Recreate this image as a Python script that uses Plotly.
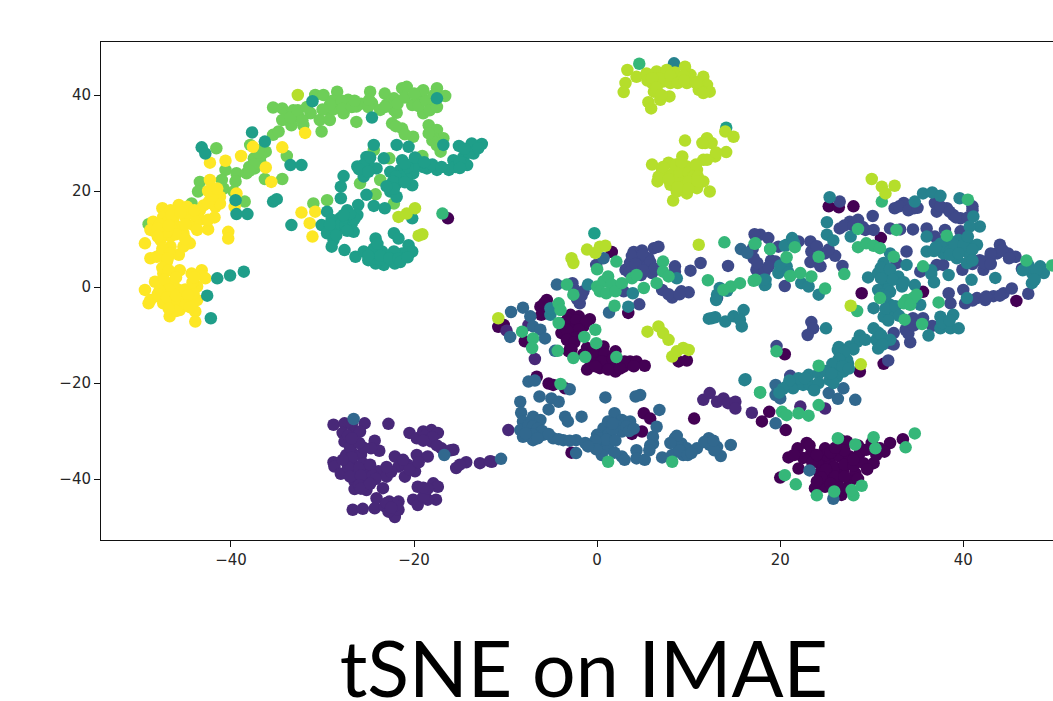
import plotly.graph_objects as go

class_0 = [(1.6,7.3),(-5.5,-2.7),(-6.2,-4.1),(-6.1,-5.8),(-10.2,-7.9),(-10.8,-8.3),(-7.9,-11.3),(3.4,-5.4),(-2.9,-5.8),(-2.0,-6.1),(-0.8,-6.7),(-3.7,-7.5),(-2.6,-8.2),(-1.5,-8.2),(-3.9,-9.6),(-2.8,-10.0),(-1.9,-9.6),(-2.9,-12.4),(-3.1,-13.4),(-1.1,-12.7),(0.7,-12.4),(2.0,-13.4),(0,-13.8),(1.0,-15.2),(-0.8,-15.2),(-1.1,-17.2),(0.3,-16.9),(2.0,-17.6),(1.4,-16.2),(2.9,-16.6),(3.6,-15.5),(4.3,-15.5),(5.2,-16.4),(8.9,-15.5),(9.8,-15.3),(20.5,-14.0),(-16.3,14.3),
(25.3,16.8),(26.4,16.6),(28.0,16.8),(31.0,10.2),(28.9,-1.3),(35.6,-1.0),(45.8,-2.9),(31.3,-16.0),(28.7,-17.6),
(-6.6,-18.7),(-5.3,-20.1),(-4.8,-20.4),(-3.5,-21.1),(5.1,-26.3),(5.8,-27.4),(10.6,-27.4),(3.8,-30.6),(4.9,-30.1),(-2.8,-34.5),(18.0,-28.0),(18.8,-26.0),(20.6,-29.8),
(20.9,-35.5),(21.9,-33.6),(22.9,-32.5),(23.4,-34.6),(24.9,-33.6),(22,-37.8),(26.5,-31.8),(27.3,-32.2),(24.3,-36.7),(25.4,-36),(26.5,-35.3),(27.6,-35.3),(28.7,-34.6),(29.4,-33.9),(29.1,-36.7),(30.2,-36.7),(30,-32.5),(30.9,-33.6),(32,-32.5),(33.4,-31.7),(31.4,-34.3),(24.3,-38.8),(25.4,-38.8),(26.9,-38.1),(28.2,-38.8),(24.7,-40.5),(26.2,-40.5),(27.6,-40.5),(23.8,-41.9),(24.9,-41.6),(26.7,-43.3),(20,-39.7),
(22.5,-35.6),(23.5,-36.5),(25.0,-35),(25.9,-37.5),(27,-37),(28,-37.2),(25,-38),(26,-39.5),(27,-39.5),(28.5,-40),(24.5,-39.7),(25.5,-41),(26.5,-41.8),(27.5,-42),(24,-40.5),(28,-36),(27,-34),(25.5,-34.5),(29.5,-38),(24,-35),(26,-33.5),(23.2,-33),(21.5,-35),(30.5,-35),(28.5,-33),
(-3.2,-6.6),(-2.3,-7),(-1.2,-7.2),(-3,-8.8),(-2,-8.9),(-3.3,-9),(-2.3,-10.5),(-3.3,-11),(-2.5,-11.5),(-2.8,-13),(-0.5,-13.5),(0.8,-14),(0.5,-15.5),(1.7,-15),(-0.2,-16.5),(1.2,-17.2),(3,-15.5),(2.5,-17),(4,-16.5),(-1.5,-14),(-5.8,-3.4)]

class_1 = [(-9.9,-9.1),(-7.5,-7.9),(-6.8,-15.0),(-9.7,-29.8),(-11.5,-36.4),(11.6,-23.5),(12.3,-22.1),(13.1,-23.9),(13.8,-23.2),(14.3,-24.2),(15.1,-23.9),(15.1,-25.3),(16.9,-26.2),(24.9,-25.3),(22.2,-24.9),
(-28.8,-28.7),(-27.6,-28.4),(-26.8,-28.7),(-25.4,-28.4),(-22.8,-28.5),(-27.8,-30.4),(-26.7,-30.4),(-25.9,-30.1),(-27.6,-32.2),(-24.3,-32),(-23.8,-34.1),(-24.7,-33.6),(-27.4,-35),(-26.7,-34.6),(-25.8,-35),(-28.8,-36.5),(-28.7,-37.4),(-28.0,-38.9),(-26.8,-36.7),(-25.6,-36.7),(-26.5,-38.4),(-25.2,-38.1),(-23.9,-38.4),(-23.0,-39.5),(-26.5,-40.5),(-25.4,-40.2),(-26.5,-42.1),(-25.2,-42.3),(-23.4,-41.9),(-24.1,-44),(-26.7,-46.4),(-25.6,-46.2),(-24.3,-46.1),(-23.2,-45.7),(-22.7,-44.7),(-21.7,-44.7),(-22.1,-47.9),(-22.8,-46.8),(-21.7,-46.4),(-22.1,-35.3),(-21.7,-37.4),(-21,-39.5),(-20.7,-37),(-19.7,-35),(-18.5,-35.3),(-19.9,-38.4),(-20.5,-30.4),(-19.7,-31.5),(-19,-30.1),(-18.1,-29.8),(-17.4,-30.4),(-18.1,-32.2),(-17,-33.6),(-15.7,-33.9),(-14.3,-36.5),(-15.4,-37.7),(-15,-37),(-12.8,-36.7),(-11.7,-36.3),(-19.6,-41.6),(-17.9,-40.9),(-17.4,-41.6),(-18.8,-42.9),(-17.6,-44.3),(-20.1,-44.3),(-19.6,-45.4),(-18.5,-44.3),
(-27.2,-31),(-27,-33.3),(-26.8,-35.5),(-27.2,-37.5),(-26,-37.8),(-27,-39.5),(-25.8,-39.3),(-24.8,-37),(-24.5,-39.3),(-24.2,-40),(-26,-41.3),(-25.8,-42),(-22.5,-38.5),(-23,-37.5),(-21,-37),(-20.5,-38),(-19.5,-36.5),(-21.2,-36),(-27.8,-36),(-24.8,-41),(-22,-45.5),(-23,-45),(-22.5,-46),(-18.8,-31),(-18,-31.3),(-19,-32),(-17.5,-33),(-16,-34),(-19,-43.7),(-18.5,-42),(-19,-41.8),(-25.5,-33.5),(-26,-32.5),(-26.8,-31.5)]

class_2 = [(4.0,7.3),(4.9,7.6),(6.2,8.1),(6.7,8.4),(-0.1,4.6),(3.1,3.6),(3.6,5.0),(4.7,5.7),(5.6,6.0),(5.4,4.3),(6.0,2.9),(4.3,3.6),(2.9,-0.9),(7.1,-0.6),(8.5,4.3),(8.5,3.2),(10.2,3.4),(11.3,5.0),(8.2,-2.2),(9.2,-0.9),(10.0,-1.1),(14.3,4.4),(4.6,-3.6),(-2.7,0.8),(-1.9,-3.4),(-1.5,-0.9),(13.1,-2.3),
(26.5,17.8),(32.5,16.4),(33.5,17.5),(34.6,16.4),(36.9,17.5),(37.1,15.7),(38.2,16.4),(38.9,15.0),(39.7,14.3),(41.0,16.8),(30.1,14.8),(26.5,12.2),(27.6,13.6),(28.5,14.0),(29.3,11.9),(30.2,11.9),(32.0,12.2),(33.1,12.0),(34.5,12.0),(36.0,12.2),(36.9,10.5),(38.0,11.9),(39.7,11.6),(17.8,10.9),(18.7,10.2),(19.8,8.4),(17.1,6.0),(19.5,5.3),(17.4,3.6),(18.3,3.2),(20.5,0.2),(23.3,9.5),(23.4,7.4),(24.9,7.0),(26.0,6.5),(24.4,4.3),(26.8,4.4),(33.8,7.4),(32.7,5.0),(35.3,3.2),(37.1,4.6),(37.8,4.6),(39.9,3.6),(41.8,5.6),(42.9,6.0),(44.0,8.8),(43.7,7.0),(44.9,7.0),(45.7,6.3),(42.2,3.6),(46.4,3.8),(41.5,-2.3),(42.4,-2.7),(43.3,-1.9),(44.4,-1.3),(45.3,-0.3),(47.1,-1.4),(40.2,-3.4),(40.0,-0.6),(38.4,-1.3),(38.6,-3.4),(35.6,-6.5),(36.6,-8.1),(33.7,-8.9),(32.4,-9.6),(34.2,-11.5),(32.0,-11.7),(23.4,-7.3),(23.6,-8.6),(23.0,-10.0),(19.6,-12.3),(31.8,-15.3),(21.1,-18.5),(22,-20),
(33,16.8),(34,16),(35,16.5),(37.5,16.8),(38.5,15.7),(39.2,14.5),(40.5,14.5),(41,16),(27,12.8),(28,12.8),(29,12.5),(44,7.5),(43,7),(42.3,5),(43,4.8),(44.3,7.7),(45,6),(41,4.8),(42.5,-2),(41,-2.8),(44,-1.8),(19,5.5),(18.7,4.2),(17.5,5),(17,8),(17.2,11),(24,8.5),(25.3,7.8),(3.8,6.5),(3.5,3),(4.8,2.5),(5,6.8),(5.8,5.2),(6.3,3.8),(4.2,4.8),(5,3.5),(-2.2,-2.5),(-2.5,-0.5),(-1.7,-1.8),(7.8,-1.5),(9,-1.5),(34,-9.7),(34.6,-8),(32.4,-12),(22,9.5),(24,5.2),(23.3,5.2),(34.5,-6.5)]

class_3 = [(0.7,6.0),(-4.4,0.5),(1.3,-5.3),(-9.4,-5.2),(-8.1,-4.3),(-7.3,-6.1),(-7.0,-8.2),(-6.2,-8.9),(-5.7,-10.7),(-9.5,-10.4),(-4.6,-13.3),(-7.5,-19.7),(-6.8,-19.5),(-3.0,-21.3),(15.7,7.9),(16.4,7.1),
(-10.5,-35.8),(-6.3,-22.8),(-5.0,-23.2),(-4.2,-23.9),(-5.3,-25.5),(-8.4,-23.9),(-8.3,-26.2),(-8.1,-28.0),(-7.0,-27.0),(-6.2,-27.7),(-8.4,-29.8),(-7.3,-30.1),(-8.1,-31.2),(-7.0,-31.9),(-5.9,-30.8),(-4.8,-31.5),(-3.7,-31.9),(-2.3,-31.9),(-3.5,-27.0),(-3.2,-28.0),(-1.7,-27.0),(-2.3,-34.6),(0.9,-23.0),(4.7,-22.5),(4.2,-22.8),(6.8,-25.6),(1.9,-26.3),(2.7,-27.7),(3.6,-28.0),(2.0,-28.7),(0.7,-29.4),(0,-30.8),(1.2,-30.8),(2.7,-30.1),(-0.8,-32.9),(0.5,-32.6),(1.2,-33.6),(0.5,-35.0),(2.7,-35.3),(3.0,-36.0),(4.3,-34.0),(4.3,-35.7),(5.2,-36.0),(6.1,-32.6),(6.1,-31.2),(6.5,-29.1),(7.1,-35.5),(8.5,-31.5),(9.2,-32.6),(8.2,-35.0),(9.4,-35.0),(9.8,-33.6),(10.9,-33.6),(12.2,-31.5),(12.3,-32.9),(13.1,-33.3),(13.5,-35.2),(14.6,-32.9),
(19.5,-28.4),(19.5,-20.4),(19.5,-22.5),(20.0,-23.2),(23.2,-38.2),(25.8,-44.1),(28.2,-23.5),(26.3,-23.3),(25.3,-22.1),(26.9,-21.1),(-26.6,-27.5),(-16.7,-35),
(-7.5,-28.8),(-7,-29),(-6.5,-29.5),(-6,-30),(-7,-30.8),(-5.3,-30.6),(-4.2,-31.7),(-3,-32),(-7.8,-30.5),(-6.5,-31.5),(1.2,-28),(1.7,-29.8),(0.2,-31.5),(1,-31.8),(2,-32),(-0.2,-32),(-0.1,-33.8),(1.9,-34.5),(1.7,-28.5),(3.2,-29),(3.5,-30),(-1.3,-32.5),(4,-29.5),(5.8,-33),(5.7,-34),(8.8,-33),(9,-34),(9.9,-35),(8.7,-31),(10.3,-34.6),(11.7,-32.3),(12.8,-34),(12.7,-32),(8,-32.5),(-1,-33.2)]

class_4 = [(-1.0,0.5),(-5.1,-5.8),(-5.1,-4.4),(3.4,-4.1),(3.9,-1.3),(8.7,1.8),(13.4,-0.2),(13.1,-1.6),(12.2,-6.6),(12.9,-6.3),(14.0,-7.2),(14.9,-6.1),(16.0,-4.8),(15.6,-6.8),(15.8,-8.2),(16.2,-19.2),(18.4,1.5),(18.4,0.5),(20.7,8.8),(20,3.6),(8.4,46.6),
(25.1,13.5),(25.1,10.9),(25.8,9.7),(27.7,10.5),(39.6,18.5),(35.6,19.5),(36.6,19.7),(37.5,19.0),(34.7,17.8),(41.1,14.7),(41.8,12.6),(40.7,12.6),(36.0,10.5),(36.0,7.4),(38.6,9.5),(39.5,9.8),(40.4,9.5),(41.5,8.8),(37.8,7.0),(38.9,7.7),(40.0,7.7),(40.7,6.7),(39.3,6.0),(40.4,5.0),(38.4,2.5),(36.5,2.7),(40.9,1.5),(43.5,1.9),(47.1,4.6),(48.4,4.3),(48.8,2.9),(47.5,2.9),(47.5,0.8),(21.3,10.2),(20.5,8.6),(20.7,4.3),(19.8,2.9),(18.3,0.4),(18.2,1.5),(22.3,0.8),(23.1,0.1),(24.2,-1.6),(25.0,-8.6),(29.6,2.0),(31.3,5.0),(31.5,2.9),(30.7,2.9),(31.5,0.8),(30.7,-0.6),(32.9,2.2),(33.3,0.1),(34.7,0.4),(33.8,4.6),(32.0,7.0),(30.2,-4.4),(32.0,-3.7),(32.5,-5.5),(31.3,-6.2),(30.2,-8.6),(30.5,-11.0),(30.7,-12.8),(32.0,-11.0),(28.7,-10.1),(28.4,-11.4),(27.6,-12.4),(26.4,-12.5),(27.1,-14.8),(27.4,-15.9),(26.0,-16.9),(35.3,-3.7),(36.2,-10.1),(37.5,-6.2),(37.5,-8.6),(38.9,-5.8),(38.6,-8.6),(39.5,-8.6),(40.4,-2.3),(25.4,18.7),
(16.1,-19.4),(23.1,-18.3),(24.2,-18),(20.7,-20.7),(21.4,-21.1),(22.5,-20.4),(23.2,-20.4),(24.2,-20),(25.4,-19.4),(26.2,-18.7),(26,-16.9),(25.8,-20),(26.9,-17.6),(27.3,-15.2),(26.3,-13.1),
(38,8.5),(39,8.8),(40,8.7),(37.5,9),(36.8,7.5),(38.5,6.7),(39.5,7),(41,7.8),(41,5.5),(36.5,3.5),(37,8.3),(40.5,10.5),(31,4),(32,3.7),(32.3,1.5),(31,1.8),(31.8,-0.5),(31,-1.5),(32,-1),(31.5,-2),(33.5,1),(31.5,-4.5),(32.6,-4),(31.8,-7),(33,-6),(30.7,-9.5),(31,-10),(31.2,-12),(29.3,-11),(28,-13),(27,-13.5),(26.4,-15),(25.7,-16),(26.8,-16.5),(27.5,-17),(25,-17.5),(25.6,-18),(22,-19),(21,-19.5),(20.3,-21.2),(19.9,-22),(23.7,-21.5),(22.7,-19),(48,3.5),(46.5,3.5),(47.8,1.5),(20,4.5),(20.9,3),(21.5,9.2),(37.7,-7.5),(38.5,-7),(36.8,1),(14.2,-0.8),(13,-2.7),(12.5,-6.5)]

class_5 = [(-43.2,29.1),(-42.8,27.8),(-37.7,32.2),(-36.3,30.3),(-33.5,25.4),(-32.3,25.4),(-35.4,17.8),(-35.0,18.3),(-39.4,15.2),(-38.2,15.2),(-39.5,18.1),(-41.5,1.8),(-40.1,2.4),(-38.6,3.2),(-42.6,-1.8),(-42.2,-6.5),(-33.4,12.9),(-31.1,38.7),(-24.6,35.3),(-16.8,29.6),(-24.4,29.6),(-17.5,39.3),
(-12.6,29.8),(-13.7,29.9),(-15.1,29.4),(-13.5,27.8),(-14.6,27.1),(-15.7,26.4),(-14.2,25.4),(-16.2,24.4),(-17.5,24.4),(-18.6,24.7),(-19.7,26.4),(-20.1,23.7),(-21.3,26.4),(-21.9,29.6),(-20.6,29.2),(-21.5,24.4),(-22.6,24.0),(-20.8,22.6),(-21.9,21.6),(-20.2,21.2),(-22.6,19.9),(-21.9,18.8),(-23.3,26.8),(-25.2,27.1),(-26.2,25.1),(-24.1,24.7),(-25.5,23.0),(-27.7,23.1),(-28.0,20.9),(-28.0,18.5),(-25.2,19.2),(-26.1,17.1),(-24.4,16.9),(-23.2,16.4),(-27.3,16.0),(-26.2,15.0),(-29.5,15.7),(-28.1,14.3),(-26.8,13.3),(-30.1,12.9),(-28.4,12.2),(-26.6,11.5),(-29.5,11.2),(-28.8,9.8),(-29.0,8.4),(-27.6,7.7),(-26.4,6.3),(-25.5,7.4),(-24.2,10.1),(-24.4,8.0),(-22.2,11.2),(-21.7,10.1),(-20.6,8.7),(-20.2,7.4),(-21.3,7.0),(-22.2,7.4),(-23.0,6.3),(-23.3,4.6),(-22.1,4.9),(-24.2,4.9),(-25.0,5.6),(-23.5,7.4),(-20.2,14.3),(-0.3,11.2),(14.1,33.2),
(-19,25),(-20,25.2),(-20.7,25),(-21,25.7),(-21.5,23),(-22,23),(-22.3,22),(-21,21.8),(-22.2,20.5),(-23,21),(-25,26),(-25.5,25.5),(-24.8,27),(-26,24.5),(-25,24),(-18,25.5),(-17,25),(-15.5,25),(-15,26),(-14,28),(-14.5,28.8),(-13,28.9),(-15,24.8),(-29,14),(-28.9,13.3),(-28,13),(-27.5,12.8),(-27.5,14.5),(-26.5,14.2),(-27.3,11.7),(-29.2,13),(-28.5,10.8),(-27,15.2),(-27.7,15),(-24.3,6),(-23.7,5.7),(-24.5,7.3),(-23.7,6.5),(-22.7,6),(-21.7,6),(-21.5,5.2),(-25,6.5),(-20.7,6.2),(-24,9),(-19.9,27),(-18.9,26)]

class_6 = [(-16.9,15.3),(4.6,46.5),(0,0.1),(0.7,1.2),(1.2,2.2),(1.6,0.5),(0.3,-0.9),(1.0,-1.3),(2.0,-0.9),(2.7,0.8),(3.8,1.8),(4.3,2.5),(1.9,-3.9),(2.1,5.3),(0,3.7),(-3.3,0.5),(-2.6,-1.6),(-4.2,-3.4),(-4.0,-4.8),(-4.2,-7.5),(-0.2,-8.9),(-8.2,-9.3),(-7.0,-10.7),(-7.1,-12.7),(-1.4,-10.4),(-0.1,-11.7),(-4.3,-13.3),(-2.6,-14.8),(-1.3,-14.6),(2.1,-14.6),(7.2,5.3),(7.2,3.2),(6.5,0.8),(7.8,2.2),(5.1,-0.2),(13.9,9.3),(12.1,1.4),(14.6,0.1),(15.6,0.8),(13.8,-0.6),(17.3,1.5),(17.3,9.1),(18.9,7.9),(17.8,-21.9),(-4.0,-20.2),(19.6,-13.4),
(31.1,17.8),(40.5,18.2),(28.5,12.1),(38.2,10.7),(28.5,8.3),(29.4,9.1),(30.2,8.6),(30.9,8.1),(18.9,7.9),(17.2,9.0),(21.6,8.3),(20.7,6.2),(24.2,6.3),(21.1,2.3),(22.2,2.9),(23.4,2.2),(24.9,-0.3),(17.1,1.3),(27.0,2.7),(32.4,6.3),(35.6,4.3),(49.7,4.5),(46.9,5.5),(30.9,-2.3),(28.4,-5.0),(33.8,-2.7),(34.5,-2.3),(33.5,-3.4),(34.2,-3.7),(34.9,-1.6),(37.3,-3.2),(33.6,-6.8),(35.5,-7.7),(24.2,-16.4),(32.7,11.9),
(1.2,-36.4),(8.2,-36.4),(17.8,-22.0),(20.5,-39.2),(20.2,-26.0),(20.7,-26.7),(26.3,-31.5),(28.2,-32.8),(30.2,-31.3),(30.4,-33.6),(33.7,-33.4),(34.7,-30.5),(21.7,-41.1),(24,-43.4),(25.9,-42.6),(28,-43.4),(27.8,-42.3),(28.9,-41.4),(22,-26.3),(23.1,-26.8),(24.2,-24.6)]

class_7 = [(-41.6,28.9),(-43.4,21.9),(-43.6,19.9),(-44.3,17.4),(-40.6,24.4),(-41.0,22.3),(-40.8,20.5),(-39.7,19.9),(-38.5,17.8),(-39.4,23.7),(-38.3,23.7),(-37.4,24.7),(-37.5,26.8),(-36.8,28.5),(-36.2,28.2),(-37.9,29.6),(-36.8,26.1),(-36.3,22.5),(-34.4,22.5),(-33.9,27.3),(-35.4,31.7),(-34.8,32.4),(-35.4,37.4),(-34.4,37.2),(-33.9,36.2),(-34.4,34.8),(-33.4,33.7),(-32.1,33.7),(-32.6,35.5),(-31.3,36.2),(-30.1,32.4),(-30.3,34.8),(-29.5,36.9),(-29.2,34.8),(-30.8,40.0),(-29.9,40.0),(-28.4,40.7),(-28.4,37.9),(-27.7,36.2),(-27.2,39.0),(-26.3,37.6),(-26.3,34.4),(-24.8,40.7),(-24.6,38.3),(-23.7,36.9),(-23.2,40.3),(-22.2,36.9),(-21.9,36.3),(-21.3,41.4),(-20.8,41.7),(-22.2,39.3),(-20.2,37.9),(-19.1,40.7),(-19.5,39.0),(-18.2,37.9),(-17.5,41.4),(-16.6,39.8),(-19.0,36.2),(-22.4,34.1),(-21.3,33.0),(-20.1,31.3),(-18.4,33.7),(-17.5,32.7),(-16.8,31.0),(-17.9,31.0),(-17.1,28.2),(-19.1,27.3),(-24.4,28.5),(-22.7,26.8),(-25.9,21.6),(-23.7,22.3),(-24.2,19.3),(-22.2,17.4),(-31.0,17.4),(-29.5,18.1),(-49.0,13.1),
(-33.2,36.8),(-33.5,35.3),(-32.7,36.8),(-32.2,34.7),(-28.9,38.8),(-28.8,37),(-27.9,38.8),(-27.8,37.1),(-25.8,38.2),(-25,37.5),(-24.9,39),(-23,38),(-23.2,37.5),(-21.8,38.2),(-19.5,37.7),(-18.7,38.8),(-17.8,40),(-18.3,36.8),(-17.5,37.5),(-19,41),(-21,39.5),(-20,40.3),(-29.2,38),(-30,37),(-26.8,37.5),(-26.5,38.8),(-38,25),(-37,26),(-37.5,25.5),(-39.5,22),(-38,24.2),(-36.7,27.5),(-37,28),(-18,30.5),(-17.5,29.5),(-18.4,32),(-22,33.5),(-21,31.8),(-31.7,37.5)]

class_8 = [(-32.7,40.0),(-21.7,14.6),(-20.8,15.3),(-19.9,16.4),(-19.1,11.0),(-19.5,10.7),(-10.8,-6.5),
(3.3,45.2),(4.3,43.8),(3.1,42.5),(2.9,40.6),(5.4,44.5),(6.5,44.9),(7.6,45.2),(9.6,45.9),(10.2,44.2),(8.7,43.8),(7.2,42.8),(6.0,42.5),(6.2,40.7),(8.0,42.5),(9.8,42.5),(11.6,43.8),(12.0,42.1),(11.1,41.1),(12.3,40.7),(11.6,40.4),(7.9,39.7),(6.9,39.0),(5.6,38.5),(5.9,37.2),
(9.6,30.5),(11.8,30.0),(12.5,30.0),(14.0,32.4),(14.9,31.3),(14.1,28.1),(12.9,27.2),(11.6,26.5),(6.0,25.5),(7.8,25.9),(9.3,27.2),(7.1,24.4),(6.7,23.0),(6.6,22.0),(8.3,23.7),(9.8,25.1),(10.9,24.4),(9.4,23.0),(8.0,21.3),(9.2,20.9),(10.5,21.6),(11.6,22.0),(12.3,19.9),(9.8,19.5),(10.9,20.6),(8.3,18.0),(8.7,19.9),
(-1.1,7.8),(-0.2,7.1),(0.3,8.4),(0.9,8.6),(-2.8,6.0),(-2.6,5.0),(11.1,8.8),(5.5,-9.3),(6.7,-8.2),(7.2,-9.6),(7.8,-11.0),(8.2,-14.5),(8.7,-13.4),(9.4,-12.7),(10.0,-13.1),
(30.0,22.5),(31.1,20.9),(32.5,21.1),(31.5,19.5),(27.7,-3.9),(28.8,-16.1),
(8.5,44.7),(6.8,43.5),(8,44),(9.5,44),(8.8,42.5),(9.5,43),(11,42.7),(5.5,43),(6,43.5),(6.5,41.5),(7,40),(10.8,42.5),(7,23),(8,23),(8.5,22),(9,22.5),(9,24),(10,23.8),(9.5,21),(7.8,22.4),(10.5,23),(10,22),(11,23),(8.8,20.8),(10,20.5),(11,22),(8.6,25.5),(9.2,26),(7.2,25),(12,26.5),(13,28),(12,31),(11.5,30),(10.8,25.5)]

class_9 = [(-31.9,32.1),(-42.3,25.9),(-40.6,26.3),(-38.9,27.3),(-37.6,29.2),(-34.4,29.1),(-36.2,24.9),(-35.6,21.9),(-32.3,15.5),(-30.8,15.7),(-31.4,13.3),(-31.1,10.5),(-40.3,11.5),(-40.3,10.1),(-39.4,19.5),(-39.6,16.7),
(-42.3,22.3),(-42.1,20.2),(-41.2,18.8),(-41.7,16.7),(-43.4,16.0),(-45.7,17.1),(-47.5,16.4),(-48.5,13.6),(-49.4,9.1),(-48.8,11.9),(-47.4,12.6),(-46.3,14.0),(-45.0,14.6),(-44.1,12.9),(-42.5,12.0),(-44.5,9.1),(-45.2,11.2),(-46.6,10.5),(-47.7,9.8),(-48.8,6.0),(-47.6,7.0),(-45.7,6.7),(-47.0,5.3),(-47.4,2.8),(-45.6,3.5),(-44.3,2.8),(-43.2,3.5),(-42.8,1.8),(-48.3,1.1),(-47.0,0.8),(-45.7,-0.6),(-43.7,0.1),(-49.4,-0.6),(-49.0,-3.4),(-47.9,-2.0),(-46.5,-2.7),(-44.8,-2.7),(-43.9,-5.1),(-43.9,-7.2),(-46.7,-6.1),(-45.6,-4.8),(-48.1,6.3),(-46.6,8.4),(-43.4,14.0),(-45.9,12.6),(-47.4,14.6),(-44.8,16.7),(-41.2,17.4),(-42.3,18.1),(-43.7,11.9),(-48.1,11.2),(-46.6,16.0),(-45.2,8.4),(-43.7,-2.7),(-46.3,0.8),(-48.8,-2.7),(-47.4,-3.4),(-45.9,-3.4),(-44.1,-1.3),(-46.6,-1.3),
(-47,13.5),(-47.8,13),(-46.5,12.2),(-46,11),(-47,11.5),(-45,13),(-48,12.2),(-46.5,15),(-45.5,15.5),(-44,15),(-44,16),(-43,17),(-42.5,17.5),(-42,19),(-42.5,20),(-45,10),(-47.5,8),(-46.7,7),(-46.9,6),(-47.5,4),(-46.8,3.5),(-46,2),(-47.3,1.5),(-46.8,-0.5),(-47.8,-0.8),(-48,-1.5),(-47,-2.2),(-46,-1.8),(-45,-0.5),(-44.7,-1.7),(-45,-3.8),(-44.5,-4.2),(-46,-5),(-46.8,-4.5),(-44.2,1),(-44,2),(-41.8,14.5),(-42.5,14),(-41.5,20.5),(-48,10.5),(-46.8,12.8)]

draw_order = [
    (class_7, "#6ece58"), (class_9, "#fde725"), (class_0, "#440154"),
    (class_1, "#482878"), (class_2, "#3e4989"), (class_3, "#31688e"),
    (class_4, "#26828e"), (class_5, "#1f9e89"), (class_6, "#35b779"),
    (class_8, "#b5de2b"),
]
x_ticks = [-40, -20, 0, 20, 40]
y_ticks = [-40, -20, 0, 20, 40]
title_text = "tSNE on IMAE"

fig = go.Figure()
for pts, colour in draw_order:
    xs, ys = zip(*pts)
    fig.add_trace(go.Scatter(x=xs, y=ys, mode="markers", showlegend=False,
                             marker=dict(size=12.5, color=colour, line=dict(width=0))))

axis_font = dict(family="DejaVu Sans", size=15, color="#262626")
fig.update_layout(
    width=1053, height=701, autosize=False,
    margin=dict(l=101, r=0, t=42, b=161),
    paper_bgcolor="white", plot_bgcolor="white",
    title=dict(text=title_text, x=0.5545, xanchor="center", y=0.006, yref="container", yanchor="bottom",
               pad=dict(b=0), font=dict(family="Lato", size=77, color="black")),
    xaxis=dict(range=[-54.2, 49.8], tickvals=x_ticks, showgrid=False, zeroline=False,
               showline=True, mirror=True, linecolor="#111111", linewidth=1,
               ticks="outside", ticklen=6, tickwidth=1, tickcolor="#111111", tickfont=axis_font),
    yaxis=dict(range=[-52.7, 51.04], tickvals=y_ticks, showgrid=False, zeroline=False,
               showline=True, mirror=False, linecolor="#111111", linewidth=1,
               ticks="outside", ticklen=6, tickwidth=1, tickcolor="#111111", tickfont=axis_font),
)
fig.write_html("out.html", post_script="document.body.style.margin='0';document.body.style.overflow='hidden';",
               config=dict(displayModeBar=False))
